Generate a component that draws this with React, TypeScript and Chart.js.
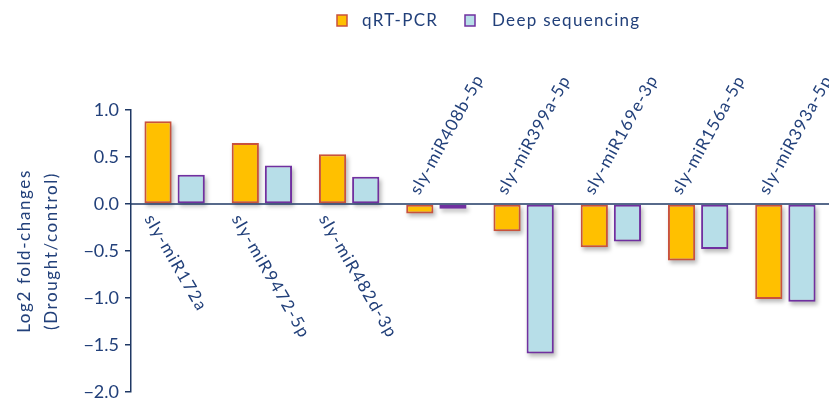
import React, { useEffect, useRef } from "react";
import { Chart, registerables } from "chart.js";

Chart.register(...registerables);

// miRNA names along the x axis
const categories = [
  "sly-miR172a",
  "sly-miR9472-5p",
  "sly-miR482d-3p",
  "sly-miR408b-5p",
  "sly-miR399a-5p",
  "sly-miR169e-3p",
  "sly-miR156a-5p",
  "sly-miR393a-5p",
];

// Log2 fold-changes (drought / control)
const qrtPcr = [0.88, 0.65, 0.53, -0.1, -0.29, -0.46, -0.6, -1.01];
const deepSeq = [0.31, 0.41, 0.29, -0.05, -1.59, -0.4, -0.48, -1.04];

const seriesNames = ["qRT-PCR", "Deep sequencing"];
const yTitleLines = ["Log2 fold-changes", "(Drought/control)"];

const NAVY = "#1F3864";
const TEXT = "#22407A";
const FONT = "Lato, 'Open Sans', sans-serif";
const ORANGE = "#FFC000";
const ORANGE_EDGE = "#C9523C";
const BLUE = "#B7DEE8";
const BLUE_EDGE = "#7030A0";

const fmt = (v: number) => (v < 0 ? "\u2212" + Math.abs(v).toFixed(1) : v.toFixed(1));

const decorations = {
  id: "decorations",
  beforeDatasetsDraw(chart: any) {
    // soft drop shadow under each bar
    const ctx = chart.ctx;
    ctx.save();
    ctx.filter = "blur(2px)";
    ctx.fillStyle = "rgba(0,0,0,0.28)";
    chart.data.datasets.forEach((_: any, di: number) => {
      const meta = chart.getDatasetMeta(di);
      meta.data.forEach((bar: any) => {
        const { x, y, base, width } = bar.getProps(["x", "y", "base", "width"], true);
        const top = Math.min(y, base);
        const h = Math.abs(base - y);
        ctx.fillRect(x - width / 2 + 2, top + 3, width, h);
      });
    });
    ctx.restore();
  },
  afterDatasetsDraw(chart: any) {
    const ctx = chart.ctx;
    const { left, right } = chart.chartArea;
    const y0 = chart.scales.y.getPixelForValue(0);
    ctx.save();
    ctx.strokeStyle = NAVY;
    ctx.lineWidth = 1.5;
    ctx.beginPath();
    ctx.moveTo(left, y0);
    ctx.lineTo(right + 5, y0);
    ctx.stroke();
    ctx.restore();
  },
  afterDraw(chart: any) {
    const ctx = chart.ctx;
    const xs = chart.scales.x;
    const ys = chart.scales.y;
    const y0 = ys.getPixelForValue(0);
    ctx.save();

    // rotated category labels next to the zero line
    ctx.fillStyle = TEXT;
    ctx.font = `17px ${FONT}`;
    ctx.textAlign = "left";
    ctx.textBaseline = "middle";
    categories.forEach((name, i) => {
      const cx = xs.getPixelForValue(i);
      const up = qrtPcr[i] < 0;
      ctx.save();
      if (up) {
        ctx.letterSpacing = "1px";
        ctx.translate(cx - 22, y0 - 11);
        ctx.rotate((-61 * Math.PI) / 180);
      } else {
        ctx.letterSpacing = "1.4px";
        ctx.translate(cx - 26, y0 + 12);
        ctx.rotate((60 * Math.PI) / 180);
      }
      ctx.fillText(name, 0, 0);
      ctx.restore();
    });

    // y axis title
    ctx.fillStyle = TEXT;
    ctx.font = `17px ${FONT}`;
    ctx.letterSpacing = "1.6px";
    ctx.textAlign = "center";
    ctx.textBaseline = "middle";
    const midY = (chart.chartArea.top + chart.chartArea.bottom) / 2;
    const colX = [25, 52];
    yTitleLines.forEach((line, i) => {
      ctx.save();
      ctx.translate(colX[i], midY);
      ctx.rotate(-Math.PI / 2);
      ctx.fillText(line, 0, 0);
      ctx.restore();
    });

    // legend
    const items = [
      { label: seriesNames[0], fill: ORANGE, edge: ORANGE_EDGE, bx: 337, tx: 362 },
      { label: seriesNames[1], fill: BLUE, edge: BLUE_EDGE, bx: 465, tx: 492 },
    ];
    ctx.font = `17px ${FONT}`;
    ctx.letterSpacing = "1.3px";
    ctx.textAlign = "left";
    ctx.textBaseline = "middle";
    items.forEach((it) => {
      ctx.fillStyle = it.fill;
      ctx.fillRect(it.bx, 15, 10, 11);
      ctx.strokeStyle = it.edge;
      ctx.lineWidth = 1.5;
      ctx.strokeRect(it.bx, 15, 10, 11);
      ctx.fillStyle = TEXT;
      ctx.fillText(it.label, it.tx, 21);
    });
    ctx.letterSpacing = "0px";
    ctx.restore();
  },
};

export default function App() {
  const ref = useRef<HTMLCanvasElement | null>(null);

  useEffect(() => {
    if (!ref.current) return;
    const chart = new Chart(ref.current, {
      type: "bar",
      data: {
        labels: categories,
        datasets: [
          {
            label: seriesNames[0],
            data: qrtPcr,
            backgroundColor: ORANGE,
            borderColor: ORANGE_EDGE,
            borderWidth: 2,
            borderSkipped: false,
            categoryPercentage: 0.76,
            barPercentage: 0.82,
          },
          {
            label: seriesNames[1],
            data: deepSeq,
            backgroundColor: BLUE,
            borderColor: BLUE_EDGE,
            borderWidth: 2,
            borderSkipped: false,
            categoryPercentage: 0.76,
            barPercentage: 0.82,
          },
        ],
      },
      options: {
        responsive: false,
        animation: false,
        layout: { padding: { top: 110, right: 0, bottom: 8, left: 0 } },
        plugins: { legend: { display: false }, tooltip: { enabled: false } },
        scales: {
          x: { display: false },
          y: {
            min: -2,
            max: 1,
            afterFit: (s: any) => {
              s.width = 131;
              s.paddingTop = 0;
              s.paddingBottom = 0;
            },
            ticks: {
              stepSize: 0.5,
              padding: 6,
              color: TEXT,
              font: { family: FONT, size: 18 },
              callback: (v: any) => fmt(Number(v)),
            },
            grid: {
              drawOnChartArea: false,
              drawTicks: true,
              tickLength: 6,
              color: NAVY,
              lineWidth: 1.5,
            },
            border: { color: NAVY, width: 1.5 },
          },
        },
      },
      plugins: [decorations],
    });
    return () => chart.destroy();
  }, []);

  return (
    <div style={{ position: "absolute", left: 0, top: 0, width: 829, height: 400, background: "#fff" }}>
      <canvas ref={ref} width={829} height={400} style={{ display: "block" }} />
    </div>
  );
}
